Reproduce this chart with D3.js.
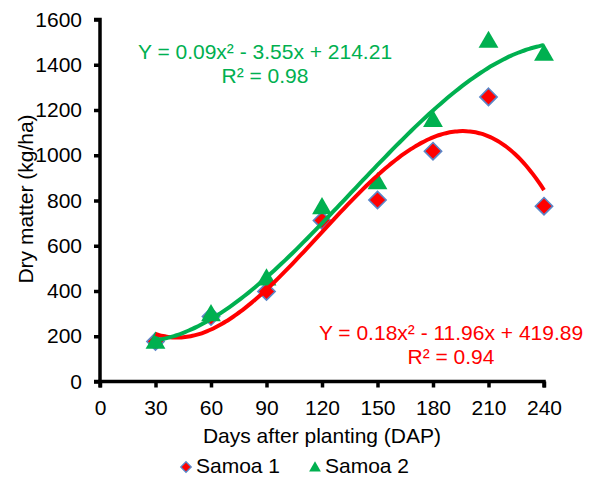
<!DOCTYPE html>
<html><head><meta charset="utf-8">
<script src="https://cdn.jsdelivr.net/npm/d3@7"></script>
<style>body{margin:0;background:#fff}svg{display:block;font-family:"Liberation Sans",Arial,sans-serif}</style>
</head><body>
<svg id="c" width="591" height="482"></svg>
<script>
const days = [30, 60, 90, 120, 150, 180, 210, 240];
const samoa1 = [177, 287, 398, 712, 802, 1018, 1258, 775];
const samoa2 = [170, 292, 450, 765, 875, 1150, 1500, 1443];
const xTicks = [0, 30, 60, 90, 120, 150, 180, 210, 240];
const yTicks = [0, 200, 400, 600, 800, 1000, 1200, 1400, 1600];
const seriesNames = ["Samoa 1", "Samoa 2"];
const eq1 = "Y = 0.18x² - 11.96x + 419.89", r1 = "R² = 0.94";
const eq2 = "Y = 0.09x² - 3.55x + 214.21", r2 = "R² = 0.98";

const FS = 21;
const svg = d3.select("#c");
const x = d3.scaleLinear().domain([0, 240]).range([100, 544]);
const y = d3.scaleLinear().domain([0, 1600]).range([381.5, 19.5]);

// cubic least-squares trend fit
function polyfit(xs, ys, deg) {
  const n = deg + 1;
  const A = Array.from({length: n}, () => new Array(n + 1).fill(0));
  xs.forEach((xv, k) => {
    for (let i = 0; i < n; i++) {
      for (let j = 0; j < n; j++) A[i][j] += Math.pow(xv, i + j);
      A[i][n] += ys[k] * Math.pow(xv, i);
    }
  });
  for (let i = 0; i < n; i++) {
    let p = i;
    for (let r = i + 1; r < n; r++) if (Math.abs(A[r][i]) > Math.abs(A[p][i])) p = r;
    [A[i], A[p]] = [A[p], A[i]];
    for (let r = 0; r < n; r++) if (r !== i) {
      const f = A[r][i] / A[i][i];
      for (let c = i; c <= n; c++) A[r][c] -= f * A[i][c];
    }
  }
  return A.map((row, i) => row[n] / row[i]);
}
function trend(ys) {
  const c = polyfit(days, ys, 3);
  return d3.range(30, 240.01, 2).map(t => [t, c.reduce((s, v, i) => s + v * Math.pow(t, i), 0)]);
}

// axes
const gx = svg.append("g").attr("transform", `translate(0,${y(0)})`)
  .call(d3.axisBottom(x).tickValues(xTicks).tickFormat(d3.format("d")).tickSize(6).tickPadding(12.5));
const gy = svg.append("g").attr("transform", `translate(${x(0)},0)`)
  .call(d3.axisLeft(y).tickValues(yTicks).tickFormat(d3.format("d")).tickSize(6).tickPadding(12));
[gx, gy].forEach(g => {
  g.select(".domain").attr("stroke", "#000").attr("stroke-width", 3.5);
  g.selectAll(".tick line").attr("stroke", "#000").attr("stroke-width", 3.5);
  g.selectAll("text").attr("font-size", FS).attr("fill", "#000").attr("font-family", "Liberation Sans, Arial, sans-serif");
});
gx.select(".domain").attr("d", `M${x(0)},6V0H${x(240)}V6`);
gy.select(".domain").attr("d", `M-6,${y(0)}H0V${y(1600)}H-6`);

svg.append("text").attr("x", 322).attr("y", 443).attr("text-anchor", "middle")
  .attr("font-size", FS).text("Days after planting (DAP)");
svg.append("text").attr("transform", "translate(33,199) rotate(-90)").attr("text-anchor", "middle")
  .attr("font-size", FS).text("Dry matter (kg/ha)");

const diamond = d3.symbol().type(d3.symbolDiamond2).size(190);
const tri = d3.symbol().type(d3.symbolTriangle).size(170);
const line = d3.line().x(d => x(d[0])).y(d => y(d[1])).curve(d3.curveBasis);

svg.append("g").selectAll("path").data(days).join("path")
  .attr("d", diamond).attr("transform", (d, i) => `translate(${x(d)},${y(samoa1[i])})`)
  .attr("fill", "#ff0000").attr("stroke", "#5b86c8").attr("stroke-width", 1.6);
svg.append("g").selectAll("path").data(days).join("path")
  .attr("d", tri).attr("transform", (d, i) => `translate(${x(d)},${y(samoa2[i])})`)
  .attr("fill", "#00b050");

svg.append("path").datum(trend(samoa1)).attr("d", line).attr("fill", "none")
  .attr("stroke", "#ff0000").attr("stroke-width", 4);
svg.append("path").datum(trend(samoa2)).attr("d", line).attr("fill", "none")
  .attr("stroke", "#00b050").attr("stroke-width", 4);

function eq(e, r, cx, by, col) {
  svg.append("text").attr("x", cx).attr("y", by).attr("text-anchor", "middle")
    .attr("font-size", FS).attr("fill", col).text(e);
  svg.append("text").attr("x", cx).attr("y", by + 24).attr("text-anchor", "middle")
    .attr("font-size", FS).attr("fill", col).text(r);
}
eq(eq2, r2, 265, 59, "#00b050");
eq(eq1, r1, 451, 340, "#ff0000");

// legend
const lg = svg.append("g");
lg.append("path").attr("d", d3.symbol().type(d3.symbolDiamond2).size(70)).attr("transform", "translate(186,467)")
  .attr("fill", "#ff0000").attr("stroke", "#5b86c8").attr("stroke-width", 1.3);
lg.append("text").attr("x", 196).attr("y", 473).attr("font-size", FS).text(seriesNames[0]);
lg.append("path").attr("d", d3.symbol().type(d3.symbolTriangle).size(60)).attr("transform", "translate(315,468)")
  .attr("fill", "#00b050");
lg.append("text").attr("x", 325).attr("y", 473).attr("font-size", FS).text(seriesNames[1]);
</script>
</body></html>
